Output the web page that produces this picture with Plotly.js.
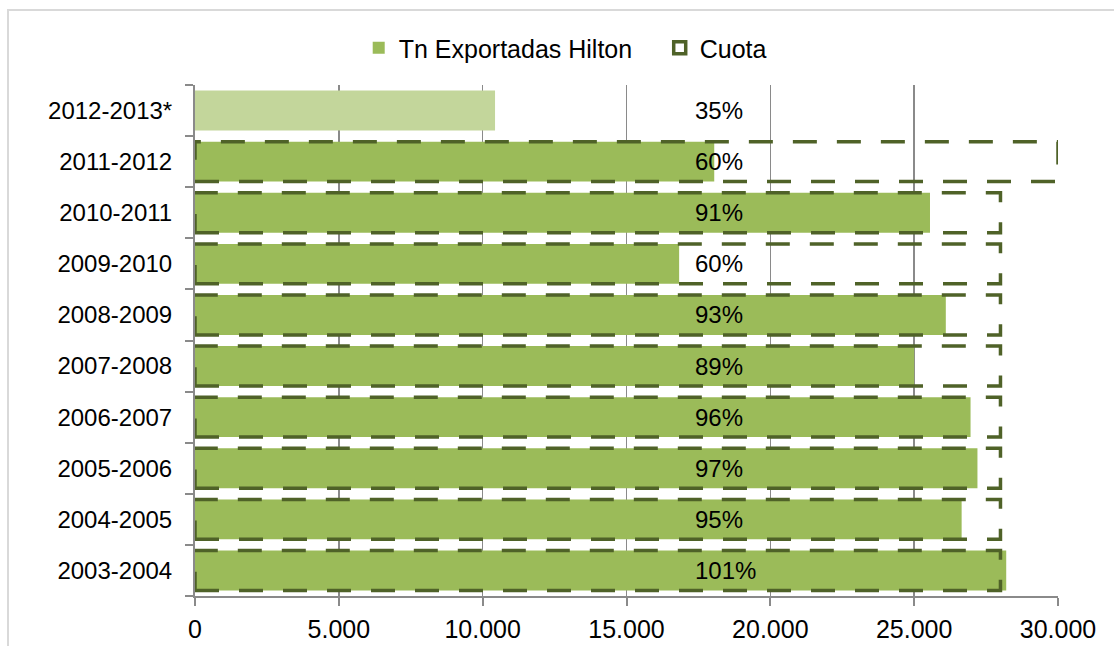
<!DOCTYPE html>
<html>
<head>
<meta charset="utf-8">
<script src="https://cdn.plot.ly/plotly-3.0.1.min.js"></script>
<style>
  html, body { margin: 0; padding: 0; width: 1114px; height: 646px; overflow: hidden; background: #fff; }
  #frame { position: absolute; left: 7px; top: 9px; width: 1200px; height: 800px; border: 2px solid #d9d9d9; }
  #chart { position: absolute; left: 0; top: 0; width: 1114px; height: 646px; }
</style>
</head>
<body>
<div id="frame"></div>
<div id="chart"></div>
<script>
// ---- data ----
const categories = ['2003-2004', '2004-2005', '2005-2006', '2006-2007', '2007-2008',
                    '2008-2009', '2009-2010', '2010-2011', '2011-2012', '2012-2013*'];
const exportadas = [28200, 26650, 27200, 26960, 25000, 26100, 16830, 25550, 18050, 10430];
const cuota = [28000, 28000, 28000, 28000, 28000, 28000, 28000, 28000, 30000, null];
const porcentajes = ['101%', '95%', '97%', '96%', '89%', '93%', '60%', '91%', '60%', '35%'];
const xTickVals = [0, 5000, 10000, 15000, 20000, 25000, 30000];
const xTickLabels = ['0', '5.000', '10.000', '15.000', '20.000', '25.000', '30.000'];
const seriesNames = ['Tn Exportadas Hilton', 'Cuota'];

// ---- styling ----
const GREEN = '#9BBB59';
const GREEN_LIGHT = '#C3D69B';
const OLIVE = '#4F6228';
const AXIS = '#8a8a8a';
const FONT = '"Liberation Sans", Arial, sans-serif';
const BAR_WIDTH = 0.78;
const LABEL_X = 17300;

const barColors = categories.map(c => c.endsWith('*') ? GREEN_LIGHT : GREEN);

// Cuota outlines as dashed rectangles on the category axis (index positions)
let first = true;
const shapes = [];
cuota.forEach((v, i) => {
  if (v === null) return;
  const h = BAR_WIDTH / 2;
  shapes.push({
    type: 'rect', xref: 'x', yref: 'y',
    x0: 0, x1: v, y0: i - h, y1: i + h,
    line: { color: OLIVE, width: 3.5, dash: '24px,20px' },
    fillcolor: 'rgba(0,0,0,0)', layer: 'above',
    name: seriesNames[1], showlegend: first, legendgroup: 'cuota'
  });
  first = false;
});

const traces = [
  {
    type: 'bar', orientation: 'h', name: seriesNames[0],
    y: categories, x: exportadas,
    marker: { color: barColors, line: { width: 0 } },
    hoverinfo: 'x+y'
  }
];

const annotations = porcentajes.map((t, i) => ({
  x: LABEL_X, y: categories[i], xref: 'x', yref: 'y',
  text: t, showarrow: false, xanchor: 'left', yanchor: 'middle',
  font: { family: FONT, size: 24, color: '#000' }
}));

const layout = {
  width: 1114, height: 646,
  margin: { l: 195, r: 56, t: 85, b: 50 },
  paper_bgcolor: 'rgba(0,0,0,0)',
  plot_bgcolor: 'rgba(0,0,0,0)',
  font: { family: FONT, size: 25, color: '#000' },
  bargap: 1 - BAR_WIDTH,
  showlegend: true,
  legend: {
    orientation: 'h', xref: 'container', yref: 'container',
    x: 0.322, xanchor: 'left', y: 1 - 48 / 646, yanchor: 'middle',
    entrywidth: 256, entrywidthmode: 'pixels',
    font: { family: FONT, size: 25, color: '#000' },
    bgcolor: 'rgba(0,0,0,0)'
  },
  xaxis: {
    range: [0, 30000], tickvals: xTickVals, ticktext: xTickLabels,
    ticks: 'outside', ticklen: 8, tickwidth: 2, tickcolor: AXIS,
    showline: true, linecolor: AXIS, linewidth: 2,
    showgrid: true, gridcolor: AXIS, gridwidth: 1.5, zeroline: false,
    tickfont: { family: FONT, size: 25, color: '#000' },
    ticklabelstandoff: 2, fixedrange: true
  },
  yaxis: {
    type: 'category', categoryorder: 'array', categoryarray: categories,
    range: [-0.5, categories.length - 0.5],
    tickson: 'boundaries', ticks: 'outside', ticklen: 8, tickwidth: 2, tickcolor: AXIS,
    showline: true, linecolor: AXIS, linewidth: 2, showgrid: false, zeroline: false,
    tickfont: { family: FONT, size: 24, color: '#000' },
    ticklabelstandoff: 16, fixedrange: true
  },
  shapes: shapes,
  annotations: annotations
};

Plotly.newPlot('chart', traces, layout, { displayModeBar: false, staticPlot: true });
</script>
</body>
</html>
